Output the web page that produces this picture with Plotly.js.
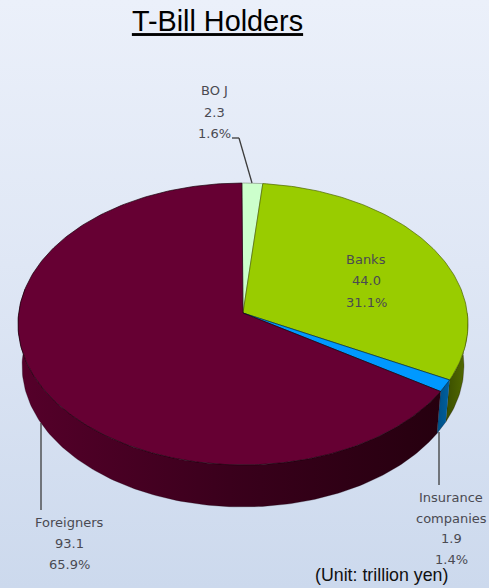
<!DOCTYPE html>
<html>
<head>
<meta charset="utf-8">
<script src="https://cdn.plot.ly/plotly-3.0.1.min.js"></script>
<style>
html,body{margin:0;padding:0;width:489px;height:588px;overflow:hidden;background:linear-gradient(180deg,#ebf0fa 0%,#dfe7f5 45%,#ccd9ed 100%);}
#c{width:489px;height:588px;}
</style>
</head>
<body>
<div id="c"></div>
<script>
// Data
const holders = ["BOJ", "Banks", "Insurance companies", "Foreigners"];
const amounts = [2.3, 44.0, 1.9, 93.1];
const shares = [1.6, 31.1, 1.4, 65.9];
const topColors = ["#ccffcc", "#99cc00", "#0099ff", "#660033"];
const edgeColors = ["#8a9a8a", "#4d6600", "#002a44", "#1a000c"];
const wallScales = [
  [[0,"#66805f"],[1,"#66805f"]],
  [[0,"#3a4d00"],[1,"#556e00"]],
  [[0,"#004f85"],[1,"#00609f"]],
  [[0,"#55002a"],[0.5,"#3a001c"],[1,"#26000f"]]
];
const labelLines = [
  ["BO J"], ["Banks"], ["Insurance","companies"], ["Foreigners"]
];
const labelX = [214, 366, 451, 69];
const labelY = [
  [90.6,112,133], [259,280,302], [497,518,538.5,559], [522,543,564]
];

// Pseudo-3D projection (pixel space axes)
const cx=243, apexY=313, R=224.3, A=140.1, B=0.078, depth=42, shrink=0.982, startDeg=-0.3;
function rim(deg, lower){
  const t=deg*Math.PI/180, u=Math.sin(t), v=-Math.cos(t), w=1-B*v;
  const s=lower?shrink:1;
  return [cx+s*R*u/w, apexY+A*v/w+(lower?depth:0)];
}
function arc(a,b,lower){
  const n=Math.max(2,Math.ceil(Math.abs(b-a)));
  const xs=[],ys=[];
  for(let i=0;i<=n;i++){const p=rim(a+(b-a)*i/n,lower);xs.push(p[0]);ys.push(p[1]);}
  return [xs,ys];
}
let cum=startDeg;
const spans=shares.map(v=>{const a=cum;cum+=v/100*360;return [a,cum];});

const traces=[];
// side walls (front part only)
spans.forEach((s,i)=>{
  const a=Math.max(s[0],90), b=Math.min(s[1],280);
  if(b<=a) return;
  const up=arc(a,b,false), lo=arc(b,a,true);
  traces.push({type:"scatter",mode:"lines",name:holders[i],
    x:up[0].concat(lo[0]),y:up[1].concat(lo[1]),
    fill:"toself",fillgradient:{type:"horizontal",colorscale:wallScales[i]},
    line:{color:"rgba(20,0,10,0.55)",width:0.5},hoverinfo:"name",showlegend:false});
});
// top faces
spans.forEach((s,i)=>{
  const e=arc(s[0],s[1],false);
  traces.push({type:"scatter",mode:"lines",name:holders[i],
    x:[cx].concat(e[0],[cx]),y:[apexY].concat(e[1],[apexY]),
    fill:"toself",fillcolor:topColors[i],
    line:{color:edgeColors[i],width:0.7},
    text:amounts[i].toFixed(1)+" ("+shares[i].toFixed(1)+"%)",
    hoverinfo:"name+text",showlegend:false});
});

// labels
const labelFont={family:"DejaVu Sans, sans-serif",size:13,color:"#4a4a52"};
const annotations=[];
holders.forEach((h,i)=>{
  const lines=labelLines[i].concat([amounts[i].toFixed(1),shares[i].toFixed(1)+"%"]);
  lines.forEach((t,j)=>annotations.push({x:labelX[i],y:labelY[i][j],xref:"x",yref:"y",text:t,showarrow:false,
    xanchor:"center",yanchor:"middle",font:labelFont}));
});
annotations.push({x:381,y:575,xref:"x",yref:"y",text:"(Unit: trillion yen)",showarrow:false,xanchor:"center",yanchor:"middle",
  font:{family:"Liberation Sans, Arial, sans-serif",size:17.8,color:"#111111"}});

const leader={type:"line",xref:"x",yref:"y",line:{color:"#3c3c3c",width:1.3}};
const shapes=[
  Object.assign({},leader,{x0:232,y0:138,x1:239,y1:138}),
  Object.assign({},leader,{x0:239,y0:138,x1:252,y1:183}),
  Object.assign({},leader,{x0:439,y0:432,x1:439,y1:485}),
  Object.assign({},leader,{x0:41,y0:423,x1:41,y1:510})
];

const layout={
  width:489,height:588,margin:{l:0,r:0,t:0,b:0},
  paper_bgcolor:"rgba(0,0,0,0)",plot_bgcolor:"rgba(0,0,0,0)",
  title:{text:"T-Bill Holders",x:217.5/489,xanchor:"center",xref:"paper",y:1-21/588,yref:"container",yanchor:"middle",
    font:{family:"Liberation Sans, Arial, sans-serif",size:28.8,color:"#000000",lineposition:"under"}},
  xaxis:{range:[0,489],visible:false,fixedrange:true},
  yaxis:{range:[588,0],visible:false,fixedrange:true},
  showlegend:false,annotations:annotations,shapes:shapes
};
Plotly.newPlot("c",traces,layout,{displayModeBar:false,staticPlot:true});
</script>
</body>
</html>
